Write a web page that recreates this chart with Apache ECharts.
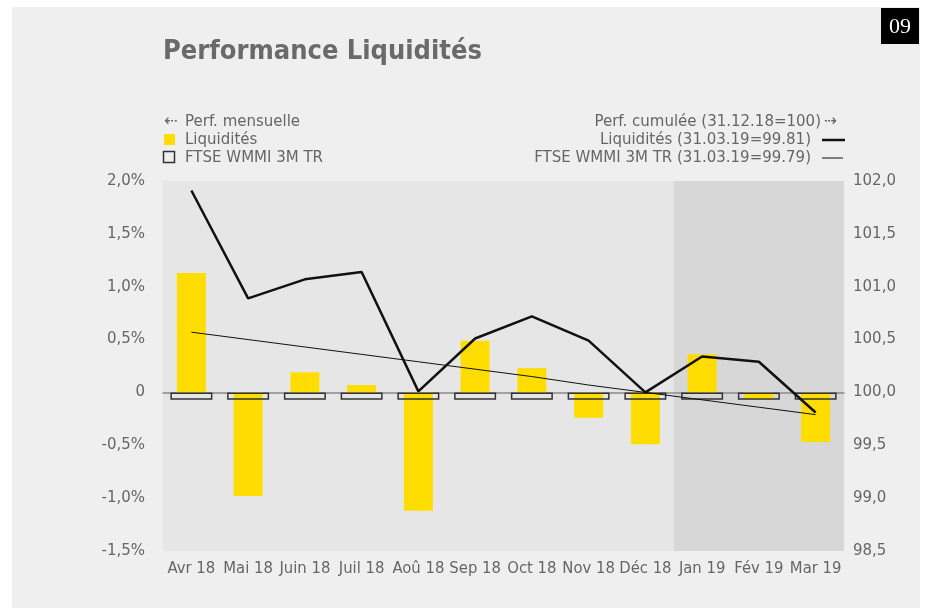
<!DOCTYPE html>
<html>
<head>
<meta charset="utf-8">
<script src="https://cdn.jsdelivr.net/npm/echarts@6/dist/echarts.min.js"></script>
<style>
    html, body { margin: 0; padding: 0; background: #ffffff; }
    #panel { position: absolute; left: 12px; top: 7px; width: 908px; height: 601px; background: #efefef; }
    #perfChart { position: absolute; left: 0; top: 0; width: 927px; height: 608px; }
</style>
</head>
<body>
<div id="panel"></div>
<div id="perfChart"></div>
<script>
// mois
const categories = ['Avr 18', 'Mai 18', 'Juin 18', 'Juil 18', 'Aoû 18', 'Sep 18', 'Oct 18', 'Nov 18', 'Déc 18', 'Jan 19', 'Fév 19', 'Mar 19'];
// perf. mensuelle en %
const liqMonthly = [1.13, -0.98, 0.19, 0.07, -1.12, 0.49, 0.23, -0.24, -0.49, 0.36, -0.06, -0.47];
const ftseMonthly = [-0.07, -0.07, -0.07, -0.07, -0.07, -0.07, -0.07, -0.07, -0.07, -0.07, -0.07, -0.07];
// perf. cumulée (31.12.18=100)
const liqCumul = [101.91, 100.89, 101.07, 101.14, 100.01, 100.51, 100.72, 100.49, 100.00, 100.34, 100.29, 99.81];
const ftseCumul = [100.57, 100.50, 100.43, 100.36, 100.29, 100.22, 100.15, 100.07, 100.00, 99.93, 99.86, 99.79];

const FONT_C = '"DejaVu Sans Condensed", "DejaVu Sans", sans-serif';
const FONT = '"DejaVu Sans", sans-serif';
const GREY = '#666666';

var chartDom = document.getElementById('perfChart');
var myChart = echarts.init(chartDom);

function pctLabel(v) {
    if (Math.abs(v) < 1e-9) return '0';
    return v.toFixed(1).replace('.', ',') + '%';
}
function idxLabel(v) {
    return v.toFixed(1).replace('.', ',');
}

let option = {
    animation: false,
    backgroundColor: 'transparent',
    grid: {
        left: 163,
        right: 83,
        top: 181,
        bottom: 57,
        show: false
    },
    xAxis: [
        {
            type: 'category',
            data: categories,
            axisLine: { onZero: true, lineStyle: { color: '#8a8a8a', width: 1.5 } },
            axisTick: { show: false },
            axisLabel: { color: GREY, fontSize: 16.5, fontFamily: FONT_C, margin: 9, interval: 0 },
            splitArea: {
                show: true,
                areaStyle: {
                    color: ['#e6e6e6', '#e6e6e6', '#e6e6e6', '#e6e6e6', '#e6e6e6', '#e6e6e6',
                            '#e6e6e6', '#e6e6e6', '#e6e6e6', '#d7d7d7', '#d7d7d7', '#d7d7d7']
                }
            }
        },
        {
            type: 'category',
            data: categories,
            show: false
        }
    ],
    yAxis: [
        {
            type: 'value',
            min: -1.5,
            max: 2,
            interval: 0.5,
            axisLine: { show: false },
            axisTick: { show: false },
            axisLabel: { color: GREY, fontSize: 15, fontFamily: FONT, margin: 18, formatter: pctLabel },
            splitLine: { show: true, showMinLine: false, showMaxLine: false, lineStyle: { color: '#f6f6f6', width: 1 } }
        },
        {
            type: 'value',
            min: 98.5,
            max: 102,
            interval: 0.5,
            axisLine: { show: false },
            axisTick: { show: false },
            axisLabel: { color: GREY, fontSize: 15, fontFamily: FONT, margin: 9, formatter: idxLabel },
            splitLine: { show: false }
        }
    ],
    series: [
        {
            name: 'Liquidités',
            type: 'bar',
            xAxisIndex: 0,
            yAxisIndex: 0,
            barWidth: 29,
            data: liqMonthly,
            itemStyle: { color: '#ffdd00' },
            z: 3
        },
        {
            name: 'FTSE WMMI 3M TR',
            type: 'bar',
            xAxisIndex: 1,
            yAxisIndex: 0,
            barWidth: 42,
            data: ftseMonthly,
            itemStyle: { color: 'rgba(0,0,0,0)', borderColor: '#333333', borderWidth: 1.5 },
            z: 4
        },
        {
            name: 'Liquidités cumul',
            type: 'line',
            xAxisIndex: 0,
            yAxisIndex: 1,
            data: liqCumul,
            showSymbol: false,
            lineStyle: { color: '#111111', width: 2.5 },
            z: 5
        },
        {
            name: 'FTSE cumul',
            type: 'line',
            xAxisIndex: 0,
            yAxisIndex: 1,
            data: ftseCumul,
            showSymbol: false,
            lineStyle: { color: '#111111', width: 1 },
            z: 5
        }
    ],
    graphic: [
        // numero de page
        { type: 'rect', x: 881, y: 8, shape: { width: 38, height: 36 }, style: { fill: '#000000' } },
        { type: 'text', x: 900, y: 27, style: { text: '09', fill: '#ffffff', font: '22px "Liberation Serif", "DejaVu Serif", serif', align: 'center', verticalAlign: 'middle' } },
        // titre
        { type: 'text', x: 163, y: 52, style: { text: 'Performance Liquidités', fill: '#6a6a6a', font: 'bold 27px ' + FONT_C, verticalAlign: 'middle' } },
        // legende gauche
        { type: 'text', x: 164, y: 122, style: { text: '⇠', fill: GREY, font: '16px ' + FONT, verticalAlign: 'middle' } },
        { type: 'text', x: 185, y: 122, style: { text: 'Perf. mensuelle', fill: GREY, font: '15px ' + FONT, verticalAlign: 'middle' } },
        { type: 'rect', x: 164, y: 134, shape: { width: 11, height: 11 }, style: { fill: '#ffdd00' } },
        { type: 'text', x: 185, y: 140, style: { text: 'Liquidités', fill: GREY, font: '15px ' + FONT, verticalAlign: 'middle' } },
        { type: 'rect', x: 163.5, y: 151.5, shape: { width: 11, height: 11 }, style: { fill: 'none', stroke: '#333333', lineWidth: 1.5 } },
        { type: 'text', x: 185, y: 158, style: { text: 'FTSE WMMI 3M TR', fill: GREY, font: '15px ' + FONT, verticalAlign: 'middle' } },
        // legende droite
        { type: 'text', x: 821, y: 122, style: { text: 'Perf. cumulée (31.12.18=100)', fill: GREY, font: '15px ' + FONT, align: 'right', verticalAlign: 'middle' } },
        { type: 'text', x: 824, y: 122, style: { text: '⇢', fill: GREY, font: '16px ' + FONT, verticalAlign: 'middle' } },
        { type: 'text', x: 811, y: 140, style: { text: 'Liquidités (31.03.19=99.81)', fill: GREY, font: '15px ' + FONT, align: 'right', verticalAlign: 'middle' } },
        { type: 'line', shape: { x1: 822, y1: 140, x2: 845, y2: 140 }, style: { stroke: '#111111', lineWidth: 2.5 } },
        { type: 'text', x: 811, y: 158, style: { text: 'FTSE WMMI 3M TR (31.03.19=99.79)', fill: GREY, font: '15px ' + FONT, align: 'right', verticalAlign: 'middle' } },
        { type: 'line', shape: { x1: 822, y1: 158, x2: 843, y2: 158 }, style: { stroke: '#111111', lineWidth: 1 } }
    ]
};
myChart.setOption(option);
</script>
</body>
</html>
